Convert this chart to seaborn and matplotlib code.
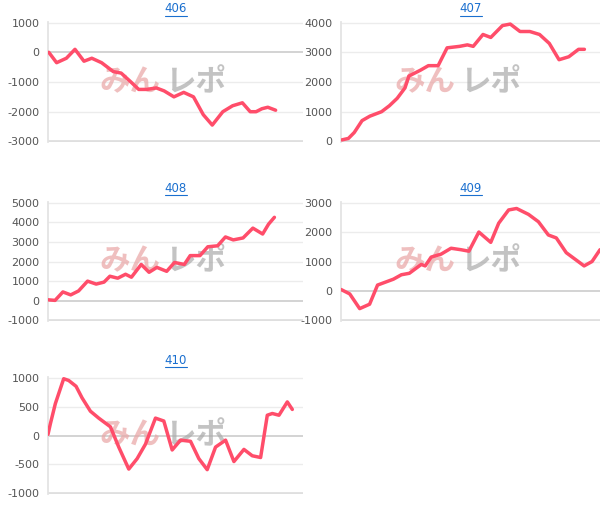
import matplotlib
matplotlib.use("Agg")
import matplotlib.pyplot as plt
import seaborn as sns
import pandas as pd

sns.set_theme(style="white")
plt.rcParams['font.family'] = ['DejaVu Sans']

titles = ["406", "407", "408", "409", "410"]

x406 = [125,145,170,192,215,235,260,290,310,335,355,375,400,420,445,470,495,520,543,570,595,620,640,655,670,685,705]
y406 = [0,-350,-200,100,-300,-200,-350,-650,-700,-1000,-1250,-1250,-1200,-1300,-1500,-1350,-1500,-2100,-2450,-2000,-1800,-1700,-2000,-2000,-1900,-1850,-1950]

x407 = [878,895,910,930,950,980,1000,1020,1040,1050,1080,1100,1125,1148,1180,1200,1215,1240,1260,1290,1310,1335,1360,1385,1410,1435,1460,1485,1500]
y407 = [50,100,300,700,850,1000,1200,1450,1800,2200,2400,2550,2550,3150,3200,3250,3200,3600,3500,3900,3950,3700,3700,3600,3300,2750,2850,3100,3100]

x408 = [127,145,165,185,205,228,250,270,285,305,325,340,365,385,405,430,450,475,490,515,535,560,580,600,625,650,675,690,705]
y408 = [50,20,450,300,500,1000,850,950,1250,1150,1350,1200,1850,1450,1700,1500,1950,1850,2300,2300,2750,2800,3250,3100,3200,3700,3400,3900,4250]

x409 = [888,910,935,960,980,1000,1020,1040,1060,1075,1090,1100,1115,1140,1165,1190,1210,1235,1265,1285,1310,1330,1360,1385,1410,1430,1455,1475,1500,1520,1540]
y409 = [50,-100,-600,-450,200,300,400,550,600,750,900,850,1150,1250,1450,1400,1350,2000,1650,2300,2750,2800,2600,2350,1900,1800,1300,1100,850,1000,1400]

x410 = [148,155,170,195,210,232,250,275,300,335,360,390,415,440,470,495,520,545,575,600,625,650,680,705,735,760,785,805,820,840,865,880]
y410 = [20,200,550,980,950,850,650,420,300,150,-200,-580,-400,-150,300,250,-250,-80,-100,-400,-590,-200,-80,-450,-240,-350,-380,350,380,350,580,450]

xs = [x406, x407, x408, x409, x410]
ys = [y406, y407, y408, y409, y410]
xlims = [(123, 775), (876, 1540), (127, 778), (888, 1540), (148, 912)]
ylims = [(-3000, 1000), (0, 4000), (-1000, 5000), (-1000, 3000), (-1000, 1000)]
ytick_steps = [1000, 1000, 1000, 1000, 500]

rects = [
    (48/611, (520-142)/520, 255/611, 120/520),
    (341/611, (520-142)/520, 259/611, 120/520),
    (48/611, (520-321)/520, 255/611, 119/520),
    (341/611, (520-321)/520, 259/611, 119/520),
    (48/611, (520-494)/520, 255/611, 117/520),
]
title_y = [9, 9, 188, 188, 360]

fig = plt.figure(figsize=(6.11, 5.20), dpi=100)
for i in range(5):
    ax = fig.add_axes(rects[i])
    df = pd.DataFrame({"x": xs[i], "y": ys[i]})
    lo, hi = ylims[i]
    st = ytick_steps[i]
    ticks = list(range(lo, hi + 1, st))
    for t in ticks:
        ax.axhline(t, color="#cccccc" if t == 0 else "#ececec", lw=1.2 if t == 0 else 1, zorder=0)
    ax.axhline(lo, color="#dddddd", lw=1.2, zorder=0)
    ax.text(0.44, 0.5, "みん", transform=ax.transAxes, fontsize=22, fontweight="bold",
            color="#e9a5a5", alpha=0.7, ha="right", va="center",
            family=["Noto Sans CJK JP"], zorder=1)
    ax.text(0.46, 0.5, "レポ", transform=ax.transAxes, fontsize=22, fontweight="bold",
            color="#aaaaaa", alpha=0.7, ha="left", va="center",
            family=["Noto Sans CJK JP"], zorder=1)
    sns.lineplot(data=df, x="x", y="y", ax=ax, color="#ff4d6a", lw=2.5, zorder=3)
    ax.set_xlim(*xlims[i])
    ax.set_ylim(lo - (hi - lo) * 0.005, hi + (hi - lo) * 0.005)
    ax.set_yticks(ticks)
    ax.set_yticklabels([str(t) for t in ticks], color="#555555", fontsize=8)
    ax.set_xticks([])
    ax.set_xlabel("")
    ax.set_ylabel("")
    for s in ["top", "right", "bottom"]:
        ax.spines[s].set_visible(False)
    ax.spines["left"].set_color("#e3e3e3")
    ax.tick_params(axis="y", length=0, pad=6)
    l, b, w, h = rects[i]
    cx = l + w / 2
    ty = 1 - title_y[i] / 520
    fig.text(cx, ty, titles[i], fontsize=8.5, color="#1a6fcf", ha="center", va="center")
    fig.add_artist(plt.Line2D([cx - 11/611, cx + 11/611], [ty - 7/520, ty - 7/520],
                              color="#1a6fcf", lw=0.8))

fig.savefig("out.png", dpi=100)
